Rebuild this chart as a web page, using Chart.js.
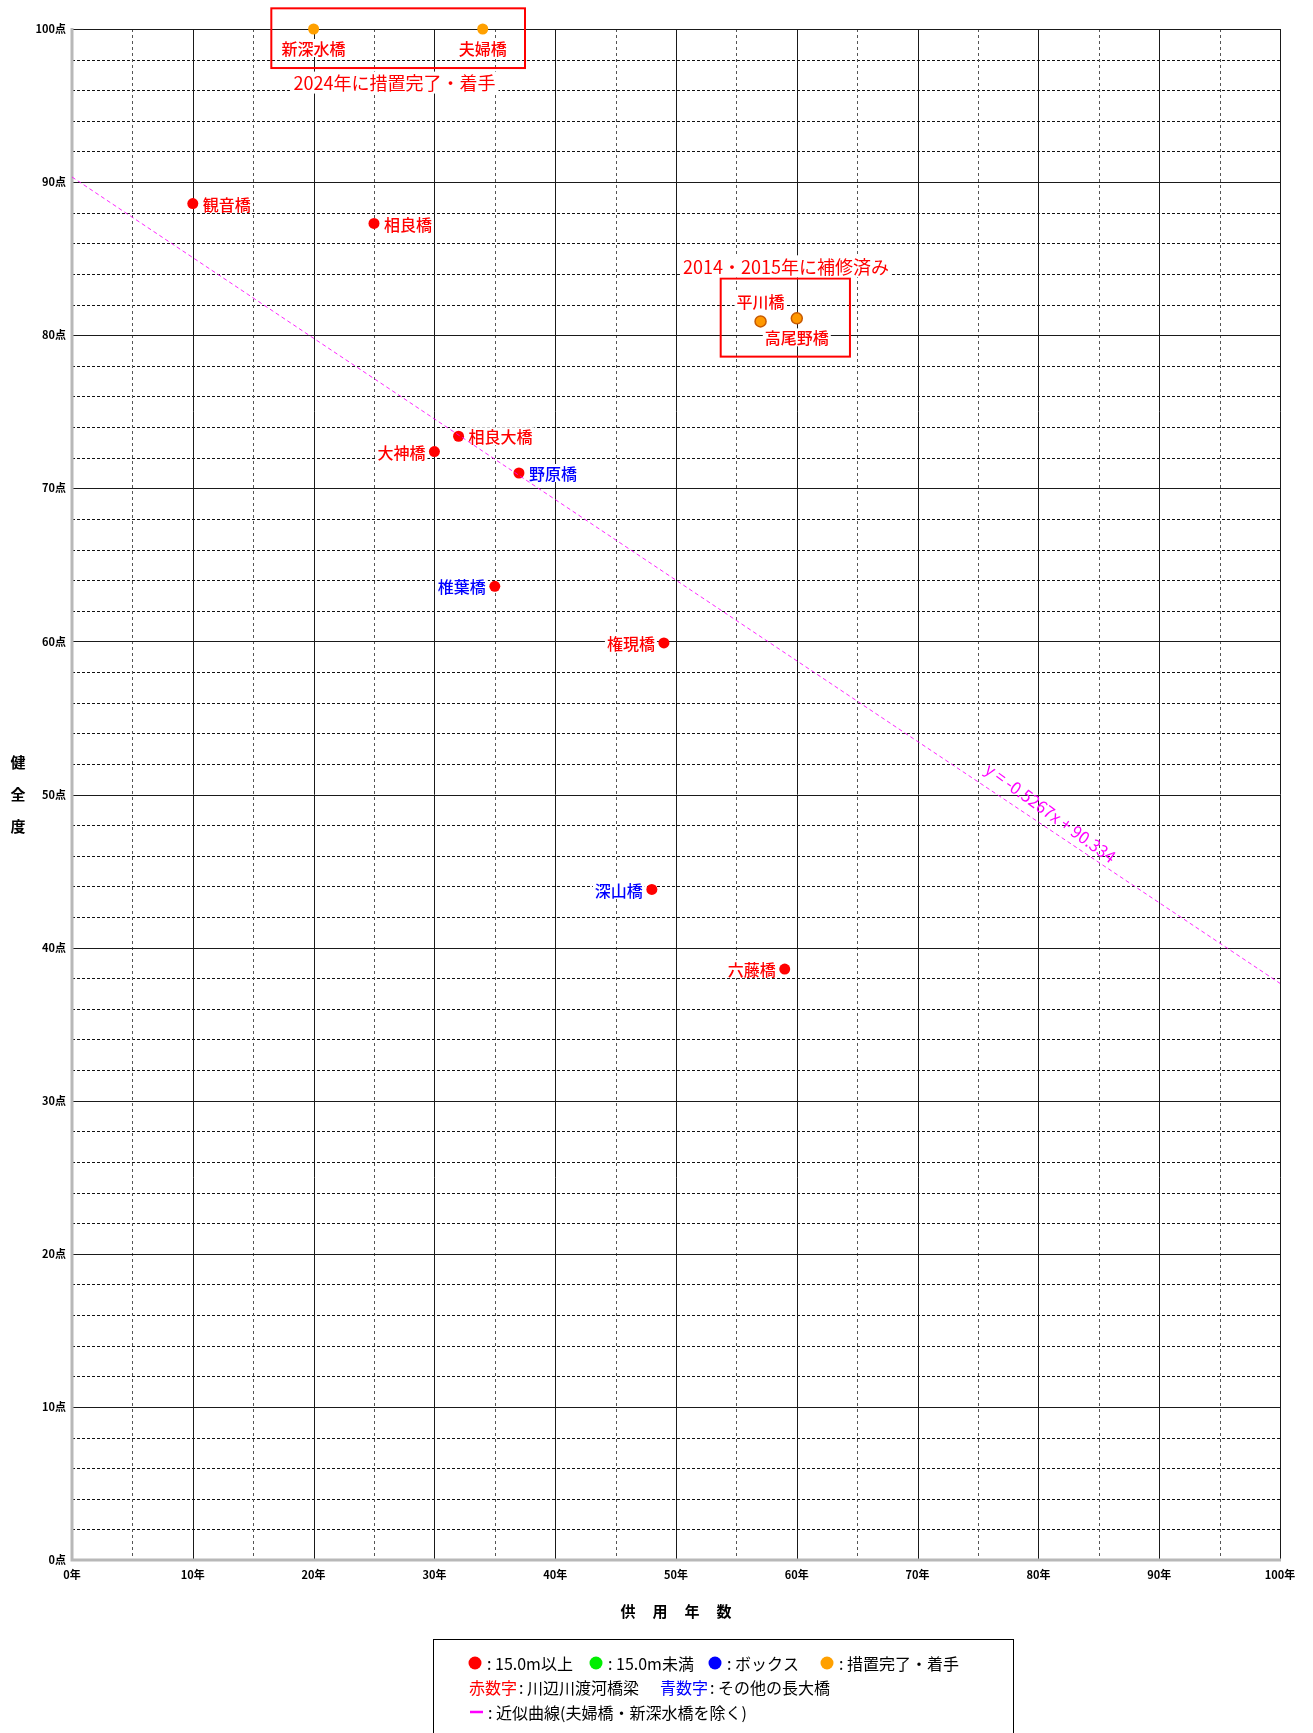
<!DOCTYPE html>
<html lang="ja">
<head>
<meta charset="utf-8">
<title>健全度と供用年数</title>
<script src="https://cdn.jsdelivr.net/npm/chart.js@4.4.1/dist/chart.umd.min.js"></script>
<style>
  body { margin: 0; background: #fff; }
  #wrap { width: 1313px; height: 1733px; }
</style>
</head>
<body>
<div id="wrap"><canvas id="health-chart" width="1313" height="1733"></canvas></div>
<script>
// 橋梁データ
const bridgeNames = ["新深水橋", "夫婦橋", "観音橋", "相良橋", "平川橋", "高尾野橋", "相良大橋", "大神橋", "野原橋", "椎葉橋", "権現橋", "深山橋", "六藤橋"];
const serviceYears = [20, 34, 10, 25, 57, 60, 32, 30, 37, 35, 49, 48, 59];
const healthScores = [100, 100, 88.6, 87.3, 80.9, 81.1, 73.4, 72.4, 71.0, 63.6, 59.9, 43.8, 38.6];
const bridgeKinds = ["done", "done", "large", "large", "repaired", "repaired", "large", "large", "large", "large", "large", "large", "large"];
const nameKinds = ["river", "river", "river", "river", "river", "river", "river", "river", "other", "other", "river", "other", "river"];

// 近似曲線 (夫婦橋・新深水橋を除く)
const trendYears = [0, 100];
const trendScores = [90.334, 37.664];
const trendText = "y = -0.5267x + 90.334";

// 注記
const noteTexts = ["2024年に措置完了・着手", "2014・2015年に補修済み"];

// 凡例
const legendDots = [": 15.0m以上", ": 15.0m未満", ": ボックス", ": 措置完了・着手"];
const legendWords = [["赤数字", ": 川辺川渡河橋梁"], ["青数字", ": その他の長大橋"]];
const legendLine = ": 近似曲線(夫婦橋・新深水橋を除く)";

// 見た目の設定（データとは別）
const FONT = '"Noto Sans CJK JP", "Noto Sans", sans-serif';
const kindColors = { large: "#ff0000", small: "#00ee00", box: "#0000ff", done: "#ffa000", repaired: "#ff9900" };
const kindBorders = { large: "#ff0000", small: "#00ee00", box: "#0000ff", done: "#ffa000", repaired: "#c85a00" };
const nameColors = { river: "#ff0000", other: "#0000ff" };
const labelSides = ["below", "below", "right", "right", "above", "below", "right", "left", "right", "left", "left", "left", "left"];

// 目盛線・ラベル・凡例
const gridPlugin = {
  id: "grid",
  beforeDatasetsDraw(chart) {
    const { ctx, chartArea: a, scales: { x, y } } = chart;
    ctx.save();
    // 細い破線（横：2点ごと）
    ctx.lineWidth = 1;
    ctx.strokeStyle = "#111";
    ctx.setLineDash([3, 2]);
    for (let v = 2; v < 100; v += 2) {
      if (v % 10 === 0) continue;
      const py = Math.round(y.getPixelForValue(v)) + 0.5;
      ctx.beginPath(); ctx.moveTo(a.left, py); ctx.lineTo(a.right, py); ctx.stroke();
    }
    // 細い破線（縦：5年ごと）
    ctx.strokeStyle = "#555";
    ctx.setLineDash([3, 3]);
    for (let v = 5; v < 100; v += 10) {
      const px = Math.round(x.getPixelForValue(v)) + 0.5;
      ctx.beginPath(); ctx.moveTo(px, a.top); ctx.lineTo(px, a.bottom); ctx.stroke();
    }
    // 実線（10ごと）
    ctx.setLineDash([]);
    ctx.strokeStyle = "#1a1a1a";
    for (let v = 10; v <= 100; v += 10) {
      const py = Math.round(y.getPixelForValue(v)) + 0.5;
      ctx.beginPath(); ctx.moveTo(a.left, py); ctx.lineTo(a.right, py); ctx.stroke();
      const px = Math.round(x.getPixelForValue(v)) + 0.5;
      ctx.beginPath(); ctx.moveTo(px, a.top); ctx.lineTo(px, a.bottom); ctx.stroke();
    }
    // 軸（灰色）
    ctx.strokeStyle = "#b8b8b8";
    ctx.lineWidth = 3;
    ctx.beginPath();
    ctx.moveTo(a.left, a.top - 1);
    ctx.lineTo(a.left, a.bottom);
    ctx.lineTo(a.right + 1, a.bottom);
    ctx.stroke();

    // 橋の名前（白背景つき）
    ctx.font = "500 16px " + FONT;
    ctx.textBaseline = "middle";
    bridgeNames.forEach((name, i) => {
      const px = x.getPixelForValue(serviceYears[i]);
      const py = y.getPixelForValue(healthScores[i]);
      const w = ctx.measureText(name).width;
      let ty = py, left;
      const side = labelSides[i];
      if (side === "right") left = px + 10;
      else if (side === "left") left = px - 9 - w;
      else if (side === "below") { ty = py + 19; left = px - w / 2; }
      else { ty = py - 20; left = px - w / 2; }
      ctx.fillStyle = "#fff";
      ctx.fillRect(left - 2, ty - 9, w + 4, 18);
      ctx.fillStyle = nameColors[nameKinds[i]];
      ctx.textAlign = "left";
      ctx.fillText(name, left, ty + 1);
    });
    ctx.restore();
  },
  afterDraw(chart) {
    const { ctx, chartArea: a, scales: { x, y } } = chart;
    ctx.save();

    // 注記の赤枠
    ctx.strokeStyle = "#ff0000";
    ctx.lineWidth = 2;
    const box = (x0, y0, x1, y1) => {
      const l = x.getPixelForValue(x0), r = x.getPixelForValue(x1);
      const t = y.getPixelForValue(y0), b = y.getPixelForValue(y1);
      ctx.strokeRect(l, t, r - l, b - t);
    };
    box(16.5, 101.35, 37.5, 97.45);
    box(53.7, 83.7, 64.4, 78.6);

    // 注記の文字
    ctx.font = "18px " + FONT;
    ctx.textAlign = "center";
    ctx.textBaseline = "middle";
    const note = (text, xv, yv) => {
      const px = x.getPixelForValue(xv), py = y.getPixelForValue(yv);
      const w = ctx.measureText(text).width;
      ctx.fillStyle = "#fff";
      ctx.fillRect(px - w / 2 - 3, py - 11, w + 6, 22);
      ctx.fillStyle = "#ff0000";
      ctx.fillText(text, px, py + 1);
    };
    note(noteTexts[0], 26.7, 96.5);
    note(noteTexts[1], 59.1, 84.5);

    // 近似式
    ctx.save();
    ctx.translate(x.getPixelForValue(81.0), y.getPixelForValue(48.8));
    ctx.rotate(36 * Math.PI / 180);
    ctx.font = "16.5px " + FONT;
    ctx.fillStyle = "#ff00ff";
    ctx.fillText(trendText, 0, 0);
    ctx.restore();

    // 軸タイトル
    ctx.font = "bold 15px " + FONT;
    ctx.fillStyle = "#000";
    const midY = (a.top + a.bottom) / 2;
    ["健", "全", "度"].forEach((ch, i) => ctx.fillText(ch, 18, midY + (i - 1) * 32));
    const midX = (a.left + a.right) / 2;
    ["供", "用", "年", "数"].forEach((ch, i) => ctx.fillText(ch, midX + (i - 1.5) * 32, 1611));

    // 凡例
    ctx.strokeStyle = "#000";
    ctx.lineWidth = 1;
    ctx.strokeRect(433.5, 1639.5, 580, 120);
    ctx.font = "16px " + FONT;
    ctx.textAlign = "left";
    const dotX = [475, 596, 715, 827];
    const dotKinds = ["large", "small", "box", "done"];
    legendDots.forEach((text, i) => {
      ctx.fillStyle = kindColors[dotKinds[i]];
      ctx.beginPath(); ctx.arc(dotX[i], 1663, 6.5, 0, Math.PI * 2); ctx.fill();
      ctx.fillStyle = "#000";
      ctx.fillText(text, dotX[i] + 12, 1664);
    });
    const wordX = [469, 660];
    legendWords.forEach(([head, rest], i) => {
      ctx.fillStyle = i === 0 ? "#ff0000" : "#0000ff";
      ctx.fillText(head, wordX[i], 1688);
      const w = ctx.measureText(head).width;
      ctx.fillStyle = "#000";
      ctx.fillText(rest, wordX[i] + w + 2, 1688);
    });
    ctx.strokeStyle = "#ff00ff";
    ctx.lineWidth = 2.5;
    ctx.beginPath(); ctx.moveTo(470, 1712); ctx.lineTo(483, 1712); ctx.stroke();
    ctx.fillStyle = "#000";
    ctx.fillText(legendLine, 488, 1713);
    ctx.restore();
  },
};

function renderHealthChart() {
  const ctx = document.getElementById("health-chart").getContext("2d");
  new Chart(ctx, {
    type: "scatter",
    data: {
      datasets: [
        {
          type: "line",
          label: "近似曲線",
          data: trendYears.map((v, i) => ({ x: v, y: trendScores[i] })),
          borderColor: "rgba(255, 0, 255, 0.85)",
          borderWidth: 1,
          borderDash: [4, 3],
          pointRadius: 0,
          fill: false,
        },
        {
          label: "健全度",
          data: serviceYears.map((v, i) => ({ x: v, y: healthScores[i] })),
          backgroundColor: bridgeKinds.map(k => kindColors[k]),
          borderColor: bridgeKinds.map(k => kindBorders[k]),
          borderWidth: bridgeKinds.map(k => (k === "repaired" ? 1.5 : 0)),
          pointRadius: 5.5,
          clip: false,
        },
      ],
    },
    options: {
      responsive: false,
      animation: false,
      events: [],
      layout: { padding: { left: 0, top: 29, right: 33, bottom: 143 } },
      plugins: {
        legend: { display: false },
        tooltip: { enabled: false },
      },
      scales: {
        x: {
          type: "linear",
          min: 0,
          max: 100,
          grid: { display: false, drawTicks: false },
          border: { display: false },
          ticks: {
            stepSize: 10,
            padding: 8,
            color: "#000",
            font: { family: FONT, size: 11, weight: "bold" },
            callback: v => v + "年",
          },
          afterFit: scale => { scale.height = 30; },
        },
        y: {
          min: 0,
          max: 100,
          grid: { display: false, drawTicks: false },
          border: { display: false },
          ticks: {
            stepSize: 10,
            padding: 6,
            color: "#000",
            font: { family: FONT, size: 11, weight: "bold" },
            callback: v => v + "点",
          },
          afterFit: scale => { scale.width = 72; },
        },
      },
    },
    plugins: [gridPlugin],
  });
}

renderHealthChart();
</script>
</body>
</html>
